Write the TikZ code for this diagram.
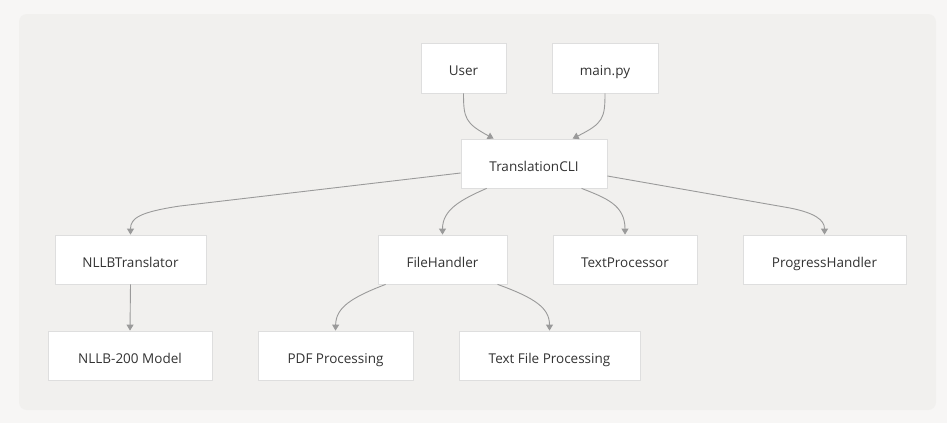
\documentclass[tikz,border=0pt]{standalone}
\usepackage{fontspec}
\setmainfont{Open Sans}
\usetikzlibrary{arrows.meta,calc}
\definecolor{outerbg}{HTML}{F7F6F5}
\definecolor{panelbg}{HTML}{F1F0EE}
\definecolor{boxline}{HTML}{DEDEDE}
\definecolor{edgecol}{HTML}{9A9A9A}
\definecolor{txtcol}{HTML}{333333}
\tikzset{
  box/.style={draw=boxline, line width=0.8pt, fill=white, inner sep=0pt,
    text height=15.4pt, text depth=0pt,
    font=\fontsize{13.5}{16}\selectfont, text=txtcol},
  conn/.style={draw=edgecol, line width=0.9pt,
    -{Triangle[width=7pt,length=6pt]}},
}
\newcommand{\bx}[6]{% name, x1, y1, x2, y2, text
  \node[box, minimum width=#4pt-#2pt, minimum height=#5pt-#3pt] (#1) at ({(#2+#4)/2},{(#3+#5)/2}) {#6};}
\begin{document}
\begin{tikzpicture}[x=1pt,y=-1pt]
\fill[outerbg] (0,0) rectangle (947,423);
\useasboundingbox (0,0) rectangle (947,423);
\fill[panelbg, rounded corners=8pt] (19,14) rectangle (936,410);

\bx{user}{421}{43}{506}{93}{User}
\bx{mainpy}{552}{43}{658}{93}{main.py}
\bx{cli}{461}{139}{607}{188}{TranslationCLI}
\bx{nllb}{55}{235}{206}{284}{NLLBTranslator}
\bx{fh}{378}{235}{507}{284}{FileHandler}
\bx{tp}{553}{235}{697}{284}{TextProcessor}
\bx{ph}{743}{235}{906}{284}{ProgressHandler}
\bx{model}{48}{331}{212}{380}{NLLB-200 Model}
\bx{pdf}{258}{331}{413}{380}{PDF Processing}
\bx{tfp}{459}{331}{640}{380}{Text File Processing}

\draw[conn] (user.south) .. controls ($(user.south)+(0,25)$) and ($(user.south)+(2,30)$) .. ($(cli.north west)+(33,0)$);
\draw[conn] (mainpy.south) .. controls ($(mainpy.south)+(0,25)$) and ($(mainpy.south)+(-2,30)$) .. ($(cli.north west)+(112,0)$);
\draw[conn] ($(cli.west)+(0,9.5)$) -- (180,206) .. controls (140,212) and (130.5,218) .. (nllb.north);
\draw[conn] ($(cli.south west)+(26,0)$) .. controls (460,200) and (442.5,210) .. (fh.north);
\draw[conn] ($(cli.south west)+(121,0)$) .. controls (606,198) and (625,205) .. (tp.north);
\draw[conn] ($(cli.east)+(0,12.5)$) -- (790,208) .. controls (815,213) and (824.5,220) .. (ph.north);
\draw[conn] (nllb.south) -- (model.north);
\draw[conn] ($(fh.south west)+(8,0)$) .. controls (350,298) and (336,308) .. (pdf.north);
\draw[conn] ($(fh.south west)+(120,0)$) .. controls (535,298) and (549.5,308) .. (tfp.north);
\end{tikzpicture}
\end{document}
